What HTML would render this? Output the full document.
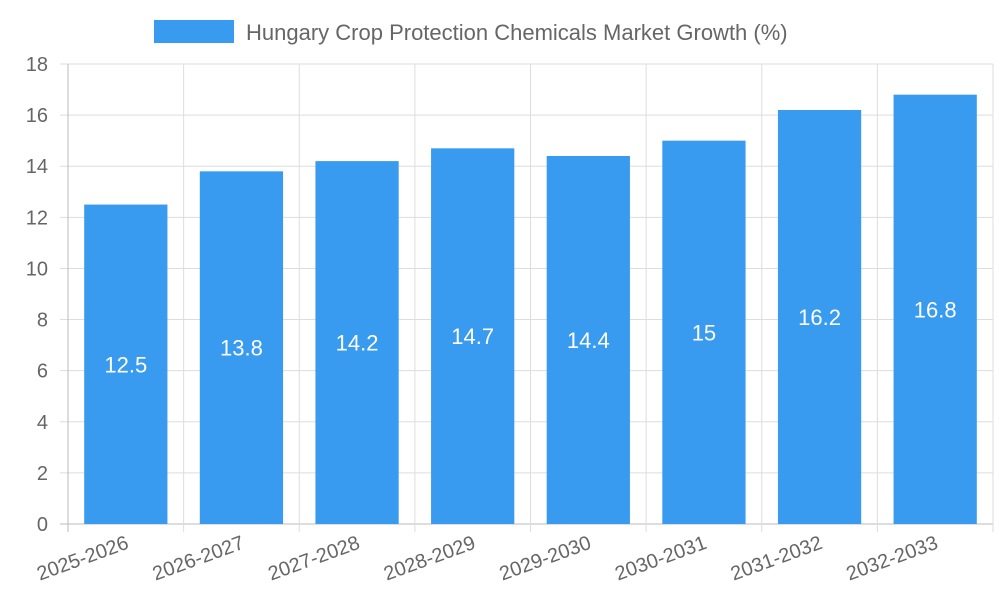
<!DOCTYPE html>
<html><head><meta charset="utf-8"><style>
body{margin:0;background:#fff;font-family:"Liberation Sans",sans-serif;}
svg text{font-family:"Liberation Sans",sans-serif;}
</style></head><body>
<svg id="chart" width="1000" height="600" viewBox="0 0 1000 600" xmlns="http://www.w3.org/2000/svg">
<g id="legend">
<rect x="154" y="20" width="80" height="23" fill="#389bef"/>
<text x="246" y="40" font-size="22" fill="#666">Hungary Crop Protection Chemicals Market Growth (%)</text>
</g>
<g id="grid"></g><g id="bars"></g><g id="axes"></g>
</svg>
<script>
const categories=["2025-2026","2026-2027","2027-2028","2028-2029","2029-2030","2030-2031","2031-2032","2032-2033"];
const growthValues=[12.5,13.8,14.2,14.7,14.4,15,16.2,16.8];
const yTicks=[0,2,4,6,8,10,12,14,16,18];
const valueLabels=["12.5","13.8","14.2","14.7","14.4","15","16.2","16.8"];
const NS="http://www.w3.org/2000/svg";
const L=68,R=993,T=64,B=524,yMax=18;
const band=(R-L)/categories.length;
const y=v=>B-(v/yMax)*(B-T);
const xc=i=>L+band*(i+0.5);
function mk(tag,attrs,parent,txt){const e=document.createElementNS(NS,tag);for(const k in attrs)e.setAttribute(k,attrs[k]);if(txt!==undefined)e.textContent=txt;parent.appendChild(e);return e;}
const grid=document.getElementById('grid'),bars=document.getElementById('bars'),axes=document.getElementById('axes');
yTicks.forEach(t=>{
 const ln=mk('line',{x1:L-8,x2:R,y1:y(t),y2:y(t),stroke:t===0?'#bbb':'#ddd','stroke-width':1},grid);
 
 
 const tx=mk('text',{x:L-20,y:y(t)+7,'text-anchor':'end','font-size':20,fill:'#666'},axes,String(t));
 
 
});
for(let i=0;i<=categories.length;i++){
 const x=L+band*i;
 const ln=mk('line',{x1:x,x2:x,y1:T,y2:B+8,stroke:i===0?'#bbb':'#ddd','stroke-width':1},grid);
 
 
}
const bw=band*0.72;
categories.forEach((c,i)=>{
 const v=growthValues[i];
 const r=mk('rect',{x:xc(i)-bw/2,y:y(v),width:bw,height:B-y(v),fill:'#389bef'},bars);
 
 
 const vl=mk('text',{x:xc(i),y:(y(v)+B)/2+8,'text-anchor':'middle','font-size':22,fill:'#fff'},bars,valueLabels[i]);
 
 
 const xl=mk('text',{x:xc(i)+4,y:548,'text-anchor':'end','font-size':20,fill:'#666',transform:`rotate(-20 ${xc(i)+4} 548)`},axes,c);
 
 
});
</script>
</body></html>
